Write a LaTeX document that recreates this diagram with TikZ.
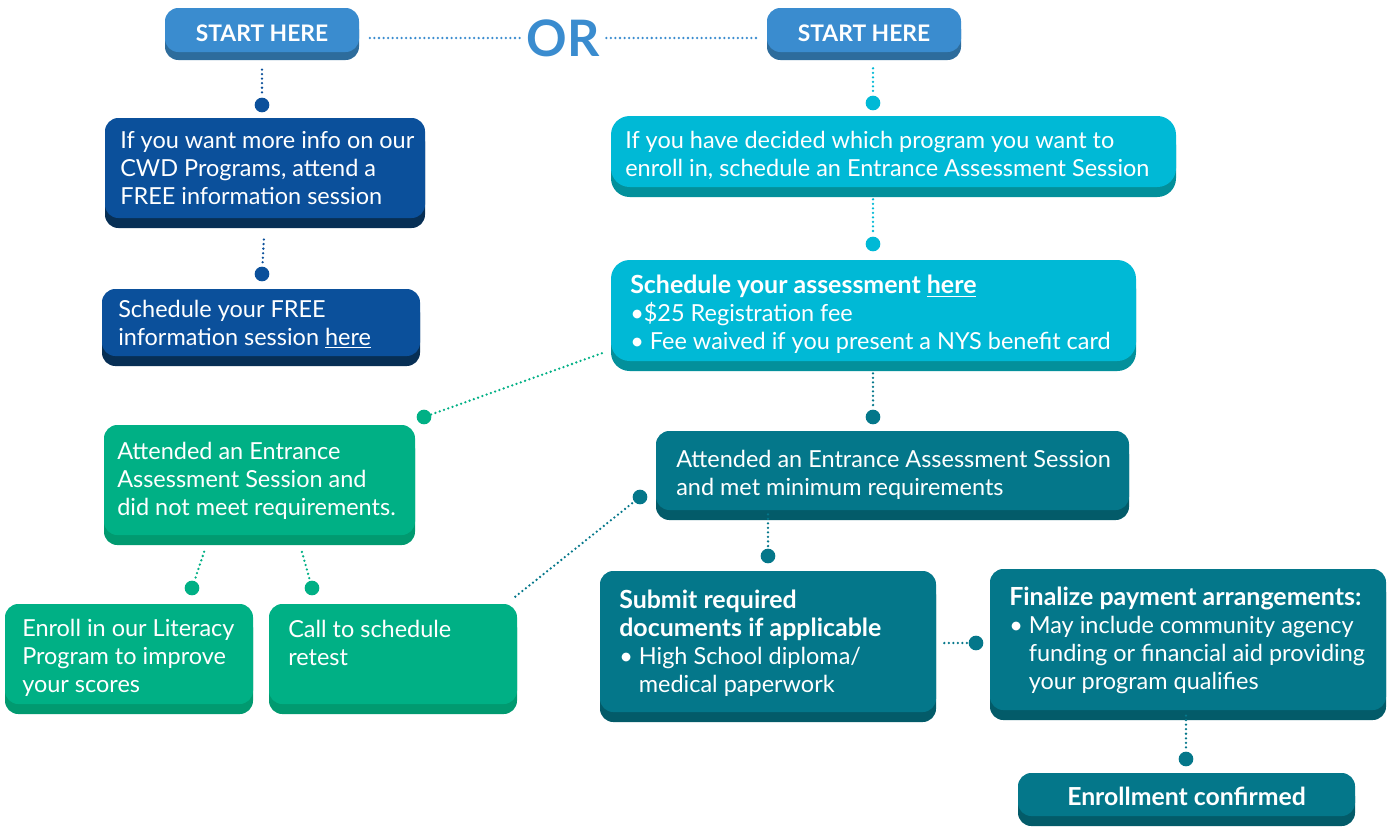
\documentclass[tikz,border=0pt]{standalone}
\usepackage{fontspec}
\setmainfont{Lato}
\usetikzlibrary{calc,shadows}
\definecolor{startblue}{HTML}{3A8CCF}
\definecolor{startblueD}{HTML}{2D6C9C}
\definecolor{navy}{HTML}{0B509B}
\definecolor{navyD}{HTML}{072F55}
\definecolor{cyanb}{HTML}{00B9D6}
\definecolor{cyanbD}{HTML}{03909B}
\definecolor{tealb}{HTML}{04778A}
\definecolor{tealbD}{HTML}{035B69}
\definecolor{greenb}{HTML}{00B085}
\definecolor{greenbD}{HTML}{019A70}
\newcommand{\bhead}[1]{{\fontsize{18.7}{21}\selectfont\bfseries #1}}
\tikzset{
  card/.style n args={3}{draw=none, fill=#1, rounded corners=10pt, inner sep=0pt,
    general shadow={fill=#2, shadow xshift=0pt, shadow yshift=-#3}},
  txt/.style={text=white, inner sep=0pt, anchor=north west, align=left,
    font=\fontsize{17.6}{21}\selectfont},
  dotn/.style={circle, fill=#1, inner sep=0pt, minimum size=11pt},
  conn/.style={draw=#1, line width=1.9pt, line cap=round, dash pattern=on 0pt off 3.4pt},
}
\begin{document}
\begin{tikzpicture}[x=0.75pt,y=-0.75pt]
\useasboundingbox (0,0) rectangle (1393,826);
\fill[white] (0,0) rectangle (1393,826);
% start boxes and OR
\node[card={startblue}{startblueD}{6pt}, minimum width=145.5pt, minimum height=33pt,
  text=white, text height=16.5pt, text depth=0pt,
  font=\fontsize{17.1}{20}\selectfont\bfseries] (start1) at (262,30) {START HERE};
\node[card={startblue}{startblueD}{6pt}, minimum width=145.5pt, minimum height=33pt,
  text=white, text height=16.5pt, text depth=0pt,
  font=\fontsize{17.1}{20}\selectfont\bfseries] (start2) at (864,30) {START HERE};
\node[inner sep=0pt, text=startblue, font=\fontsize{37.7}{40}\selectfont\bfseries] (orn) at (563,38) {OR};
% boxes
\node[card={navy}{navyD}{7.5pt}, minimum width=240pt, minimum height=75pt] (blue1) at (265,168) {};
\node[card={navy}{navyD}{7.5pt}, minimum width=238.5pt, minimum height=50.25pt] (blue2) at (261,322.5) {};
\node[card={cyanb}{cyanbD}{7.5pt}, rounded corners=14pt, minimum width=423.75pt, minimum height=53.25pt] (cyan1) at (893.5,151.5) {};
\node[card={cyanb}{cyanbD}{7.5pt}, rounded corners=14pt, minimum width=393.75pt, minimum height=75.75pt] (cyan2) at (873.5,310.5) {};
\node[card={tealb}{tealbD}{7.5pt}, minimum width=354.75pt, minimum height=59.25pt] (teal1) at (892.5,470.5) {};
\node[card={greenb}{greenbD}{7.5pt}, minimum width=233.25pt, minimum height=82.5pt] (green1) at (259.5,480) {};
\node[card={greenb}{greenbD}{7.5pt}, minimum width=186pt, minimum height=75pt] (green2) at (129,654) {};
\node[card={greenb}{greenbD}{7.5pt}, minimum width=186pt, minimum height=75pt] (green3) at (393,654) {};
\node[card={tealb}{tealbD}{7.5pt}, minimum width=252pt, minimum height=105.75pt] (teal2) at (768,641.5) {};
\node[card={tealb}{tealbD}{7.5pt}, minimum width=297pt, minimum height=105.75pt] (teal3) at (1188,639.5) {};
\node[card={tealb}{tealbD}{7.5pt}, minimum width=252.75pt, minimum height=32.25pt,
  text=white, text height=16.5pt, text depth=0pt,
  font=\fontsize{18.6}{20}\selectfont\bfseries] (teal4) at (1186.5,794.5) {Enrollment confirmed};
% texts
\node[txt] (t1) at (120,131) {If you want more info on our\\CWD Programs, attend a\\FREE information session};
\node[txt] (t2) at (118,300) {Schedule your FREE\\information session \underline{here}};
\node[txt] (t3) at (625,131) {If you have decided which program you want to\\enroll in, schedule an Entrance Assessment Session};
\node[txt] (t4) at (630,275) {\bhead{Schedule your assessment \underline{here}}\\•\$25 Registration fee\\• Fee waived if you present a NYS benefit card};
\node[txt] (t5) at (676,450) {Attended an Entrance Assessment Session\\and met minimum requirements};
\node[txt] (t6) at (117,442) {Attended an Entrance\\Assessment Session and\\did not meet requirements.};
\node[txt] (t7) at (22,619) {Enroll in our Literacy\\Program to improve\\your scores};
\node[txt] (t8) at (288,620) {Call to schedule\\retest};
\node[txt] (t9) at (619,590) {\bhead{Submit required}\\\bhead{documents if applicable}\\• High School diploma/\\\phantom{• }medical paperwork};
\node[txt] (t10) at (1009,587) {\bhead{Finalize payment arrangements:}\\• May include community agency\\\phantom{• }funding or financial aid providing\\\phantom{• }your program qualifies};
% dots
\node[dotn=navy] (d1) at (262,105) {};
\node[dotn=navy] (d2) at (262,274) {};
\node[dotn=cyanb] (d3) at (873,103) {};
\node[dotn=cyanb] (d4) at (873,244) {};
\node[dotn=tealb] (d5) at (873,417) {};
\node[dotn=greenb] (d6) at (424,417) {};
\node[dotn=greenb] (d7) at (192,588) {};
\node[dotn=greenb] (d8) at (312,588) {};
\node[dotn=tealb] (d9) at (640,497) {};
\node[dotn=tealb] (d10) at (768,556) {};
\node[dotn=tealb] (d11) at (976,643) {};
\node[dotn=tealb] (d12) at (1186,759) {};
% connectors
\draw[conn=startblue, shorten <=8pt, shorten >=5pt] (start1.east |- orn) -- (orn);
\draw[conn=startblue, shorten <=5pt, shorten >=5pt] (orn) -- (start2.west |- orn);
\draw[conn=navy, shorten <=13pt, shorten >=1pt] (start1.south) -- (d1);
\draw[conn=navy, shorten <=16pt, shorten >=1pt] (blue1.south) -- (d2);
\draw[conn=cyanb, shorten <=12pt, shorten >=1pt] (start2.south -| d3) -- (d3);
\draw[conn=cyanb, shorten <=9pt, shorten >=1pt] (cyan1.south -| d4) -- (d4);
\draw[conn=tealb, shorten <=9pt, shorten >=1pt] (cyan2.south -| d5) -- (d5);
\draw[conn=greenb, shorten >=1pt] (d6) -- ($(cyan2.south west)+(-6,-9)$);
\draw[conn=greenb, shorten <=13pt, shorten >=1pt] ($(green1.south)+(-49.8,0)$) -- (d7);
\draw[conn=greenb, shorten <=13pt, shorten >=1pt] ($(green1.south)+(37.8,0)$) -- (d8);
\draw[conn=tealb, shorten >=1pt] ($(green3.north east)+(-2,-7)$) -- (d9);
\draw[conn=tealb, shorten <=3pt, shorten >=1pt] ($(teal1.south)+(-124.5,0)$) -- (d10);
\draw[conn=tealb, shorten <=6pt, shorten >=1pt] (teal2.east |- d11) -- (d11);
\draw[conn=tealb, shorten <=4pt, shorten >=1pt] (teal3.south -| d12) -- (d12);
\end{tikzpicture}
\end{document}
